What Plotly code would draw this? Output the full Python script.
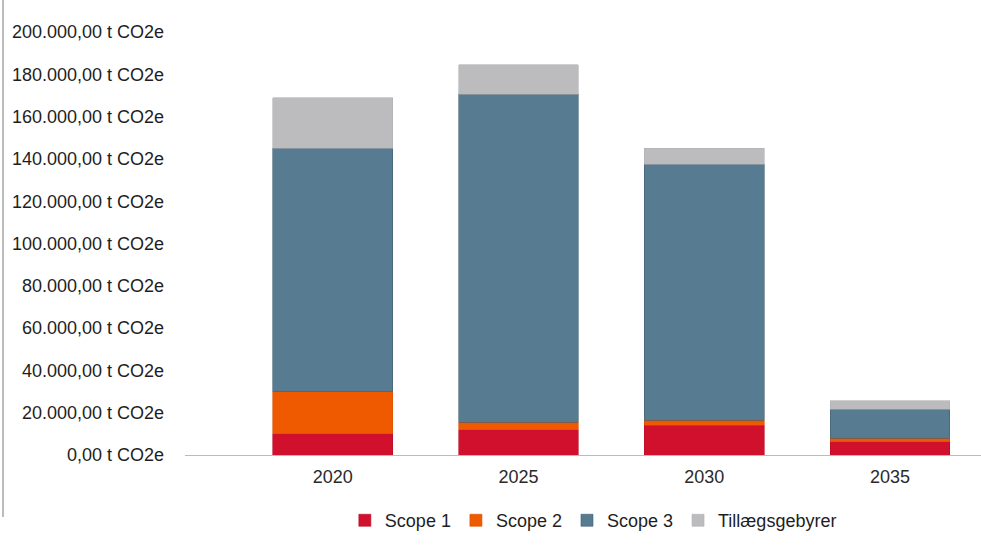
import plotly.graph_objects as go

years = ["2020", "2025", "2030", "2035"]
scope1 = [10000, 12000, 14000, 6300]
scope2 = [20000, 3500, 2500, 1600]
scope3 = [115000, 155000, 121000, 13700]
tillaeg = [24000, 14000, 7500, 4000]

series = [
    ("Scope 1", scope1, "#d0102c", "#b80d25"),
    ("Scope 2", scope2, "#ef5a00", "#d85000"),
    ("Scope 3", scope3, "#577b91", "#3f5f73"),
    ("Tillægsgebyrer", tillaeg, "#bcbcbe", "#b0b0b2"),
]

tick_vals = list(range(0, 200001, 20000))
tick_text = [("{:,}".format(v).replace(",", ".") + ",00 t CO2e") for v in tick_vals]

fig = go.Figure()
xs = list(range(len(years)))
for name, vals, color, lc in series:
    fig.add_trace(go.Bar(
        x=xs, y=vals, name=name, width=0.645,
        marker=dict(color=color, line=dict(color=lc, width=0.6)),
    ))

fig.update_layout(
    barmode="stack",
    width=981, height=549,
    margin=dict(l=185, r=0, t=32, b=94, autoexpand=False),
    paper_bgcolor="white", plot_bgcolor="white",
    font=dict(family="Liberation Sans, Arial, sans-serif", size=18, color="#1e1e1e"),
    showlegend=True,
    legend=dict(orientation="h", traceorder="normal", x=0.513, xanchor="center",
                y=-0.155, yanchor="middle",
                font=dict(size=18, color="#1e1e1e"), tracegroupgap=0),
    xaxis=dict(range=[-0.796, 3.49], tickmode="array", tickvals=xs, ticktext=years,
               showline=True, linecolor="#bbbbbb", linewidth=1, showgrid=False,
               zeroline=False, ticks="", automargin=False, ticklabelstandoff=5,
               tickfont=dict(size=18, color="#2a2a2a")),
    yaxis=dict(range=[0, 200000], tickmode="array", tickvals=tick_vals, ticktext=tick_text,
               showgrid=False, zeroline=False, showline=False, ticklabelstandoff=20,
               automargin=False, tickfont=dict(size=18, color="#1e1e1e")),
    shapes=[dict(type="line", xref="paper", yref="paper", x0=-0.2286, x1=-0.2286,
                 y0=1.08, y1=-0.1466, line=dict(color="#bbbbbb", width=2))],
)

fig.write_html(
    "out.html",
    config={"displayModeBar": False},
    post_script="document.body.style.margin='0';document.body.style.overflow='hidden';",
)
